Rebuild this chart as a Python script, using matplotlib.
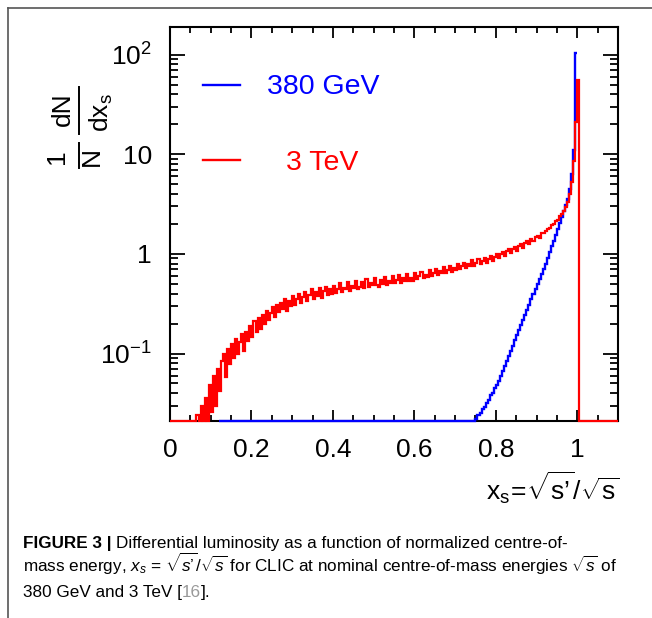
import matplotlib
matplotlib.use("Agg")
import numpy as np
import matplotlib.pyplot as plt
from matplotlib.lines import Line2D
from matplotlib.ticker import FixedLocator, FixedFormatter, MultipleLocator, LogLocator, NullFormatter

plt.rcParams['font.family'] = ['Liberation Sans', 'DejaVu Sans']
plt.rcParams['mathtext.fontset'] = 'custom'
plt.rcParams['mathtext.rm'] = 'Liberation Sans'
plt.rcParams['mathtext.it'] = 'Liberation Sans:italic'
plt.rcParams['mathtext.bf'] = 'Liberation Sans:bold'

# histogram bins (width 0.005 in x_s)
bin_width = 0.005

# 3 TeV spectrum, first bin starts at x_s = 0.065
red_start = 0.065
red_vals = [
    0.024, 0.010, 0.030, 0.012, 0.036, 0.020, 0.048, 0.026, 0.060, 0.030,
    0.070, 0.042, 0.085, 0.100, 0.058, 0.110, 0.078, 0.125, 0.090, 0.140,
    0.098, 0.130, 0.158, 0.105, 0.165, 0.135, 0.190, 0.145, 0.210, 0.165,
    0.225, 0.175, 0.245, 0.200, 0.270, 0.215, 0.255, 0.295, 0.230, 0.310,
    0.260, 0.325, 0.280, 0.355, 0.270, 0.340, 0.300, 0.375, 0.305, 0.350,
    0.395, 0.320, 0.370, 0.415, 0.335, 0.390, 0.440, 0.350, 0.410, 0.375,
    0.450, 0.365, 0.420, 0.470, 0.385, 0.440, 0.400, 0.480, 0.405, 0.445,
    0.505, 0.415, 0.460, 0.440, 0.525, 0.425, 0.480, 0.455, 0.540, 0.445,
    0.470, 0.520, 0.455, 0.560, 0.470, 0.505, 0.485, 0.575, 0.490, 0.465,
    0.545, 0.500, 0.590, 0.485, 0.540, 0.515, 0.600, 0.505, 0.545, 0.610,
    0.515, 0.570, 0.540, 0.625, 0.535, 0.575, 0.530, 0.640, 0.560, 0.600,
    0.665, 0.570, 0.620, 0.590, 0.690, 0.600, 0.640, 0.705, 0.615, 0.680,
    0.640, 0.735, 0.645, 0.690, 0.760, 0.660, 0.730, 0.690, 0.800, 0.700,
    0.760, 0.820, 0.715, 0.790, 0.750, 0.860, 0.760, 0.810, 0.890, 0.800,
    0.850, 0.920, 0.820, 0.890, 0.950, 0.850, 0.940, 0.990, 0.900, 0.990,
    1.050, 0.950, 1.060, 1.110, 1.010, 1.120, 1.180, 1.070, 1.190, 1.250,
    1.150, 1.290, 1.340, 1.250, 1.420, 1.340, 1.480, 1.530, 1.440, 1.610,
    1.640, 1.690, 1.790, 1.830, 1.960, 1.990, 2.150, 2.200, 2.380, 2.500,
    2.70, 2.95, 3.35, 4.00, 5.30, 8.50, 21.0, 56.0,
]

# 380 GeV spectrum, first bin starts at x_s = 0.750
blue_start = 0.750
blue_vals = [
    0.022, 0.024, 0.025, 0.028, 0.029, 0.032, 0.034, 0.038, 0.040, 0.045,
    0.048, 0.053, 0.059, 0.067, 0.0745, 0.085, 0.094, 0.107, 0.120, 0.136,
    0.152, 0.172, 0.192, 0.218, 0.244, 0.276, 0.309, 0.350, 0.392, 0.443,
    0.497, 0.56, 0.63, 0.71, 0.80, 0.90, 1.05, 1.20, 1.36, 1.55,
    1.78, 2.05, 2.35, 2.70, 3.10, 3.60, 4.50, 6.30, 11.0, 105.0,
]

x_ticks = [0, 0.2, 0.4, 0.6, 0.8, 1.0]
x_tick_labels = ['0', '0.2', '0.4', '0.6', '0.8', '1']
y_ticks = [0.1, 1, 10, 100]
y_tick_labels = [r'$\mathregular{10^{-1}}$', '1', '10', r'$\mathregular{10^{2}}$']
series_labels = ['380 GeV', '3 TeV']
series_colors = ['#0000ff', '#ff0000']

x_min, x_max = 0.0, 1.1
y_min, y_max = 0.021, 190.0
blue_range = (0.12, 1.0)

W, H = 652, 618
fig = plt.figure(figsize=(W / 100, H / 100), dpi=100)
ax = fig.add_axes([170 / W, 1 - 421 / H, 448 / W, 394 / H])
ax.set_yscale('log')
ax.set_xlim(x_min, x_max)
ax.set_ylim(y_min, y_max)

# full step histograms; empty bins sit on the bottom edge like ROOT draws them
n_red = int(round((x_max - x_min) / bin_width))
red_edges = x_min + bin_width * np.arange(n_red + 1)
red_full = np.zeros(n_red)
i0 = int(round((red_start - x_min) / bin_width))
red_full[i0:i0 + len(red_vals)] = red_vals

n_blue = int(round((blue_range[1] - blue_range[0]) / bin_width))
blue_edges = blue_range[0] + bin_width * np.arange(n_blue + 1)
blue_full = np.zeros(n_blue)
j0 = int(round((blue_start - blue_range[0]) / bin_width))
blue_full[j0:j0 + len(blue_vals)] = blue_vals

ax.stairs(np.maximum(blue_full, y_min), blue_edges, baseline=None,
          color=series_colors[0], lw=1.7, clip_on=False, zorder=3)
ax.stairs(np.maximum(red_full, y_min), red_edges, baseline=None,
          color=series_colors[1], lw=1.6, clip_on=False, zorder=4)

# ticks, ROOT style
ax.xaxis.set_major_locator(FixedLocator(x_ticks))
ax.xaxis.set_major_formatter(FixedFormatter(x_tick_labels))
ax.xaxis.set_minor_locator(MultipleLocator(0.05))
ax.yaxis.set_major_locator(FixedLocator(y_ticks))
ax.yaxis.set_major_formatter(FixedFormatter(y_tick_labels))
ax.yaxis.set_minor_locator(LogLocator(base=10, subs=np.arange(2, 10)))
ax.yaxis.set_minor_formatter(NullFormatter())
ax.tick_params(which='both', direction='in', top=True, right=True, width=1.3,
               labelsize=19, color='black')
ax.tick_params(axis='x', which='major', length=8, pad=12)
ax.tick_params(axis='x', which='minor', length=4.5)
ax.tick_params(axis='y', which='major', length=10.5, pad=13)
ax.tick_params(axis='y', which='minor', length=5.5)
for s in ax.spines.values():
    s.set_linewidth(1.5)

# legend drawn by hand
leg_y = [0.853, 0.662]
leg_tx = [0.217, 0.258]
for lab, col, yy, tx in zip(series_labels, series_colors, leg_y, leg_tx):
    ax.add_line(Line2D([0.073, 0.156], [yy, yy], transform=ax.transAxes,
                       color=col, lw=1.7))
    ax.text(tx, yy - 0.006, lab, transform=ax.transAxes, color=col,
            fontsize=20.5, ha='left', va='center')

# y title: 1/N dN/dx_s as two stacked fractions, rotated
lab_kw = dict(rotation=90, ha='center', va='center', fontsize=19)
fig.text(57 / W, 1 - 157 / H, '1', **lab_kw)
fig.text(92 / W, 1 - 156 / H, 'N', **lab_kw)
fig.text(63 / W, 1 - 109 / H, 'dN', **lab_kw)
fig.text(101 / W, 1 - 113 / H, r'$\mathregular{dx_s}$', **lab_kw)
fig.add_artist(Line2D([79 / W] * 2, [1 - 143 / H, 1 - 168 / H], color='k', lw=1.4))
fig.add_artist(Line2D([79 / W] * 2, [1 - 87 / H, 1 - 134 / H], color='k', lw=1.4))

# x title
fig.text(620 / W, 1 - 488 / H, "$\\mathregular{x_s\\!=\\!\\sqrt{s\u2019}/\\sqrt{s}}$",
         ha='right', va='center', fontsize=19)

# page frame lines
fig.add_artist(Line2D([8 / W, 1], [1 - 8 / H, 1 - 8 / H], color='#555555', lw=1.2))
fig.add_artist(Line2D([8 / W, 8 / W], [0, 1 - 8 / H], color='#555555', lw=1.2))

# caption
cap_size = 12.3
fig.canvas.draw()
r = fig.canvas.get_renderer()


def put(x_px, base_px, s, **kw):
    t = fig.text(x_px / W, 1 - base_px / H, s, fontsize=cap_size,
                 va='baseline', ha='left', **kw)
    bb = t.get_window_extent(r)
    return bb.x1


x = put(23, 548, 'FIGURE 3 |', weight='bold')
put(x + 5, 548, 'Differential luminosity as a function of normalized centre-of-')
put(23, 572, "mass energy, $x_s$ = $\\sqrt{s\u2019}/\\sqrt{s}$ for CLIC at nominal "
             "centre-of-mass energies $\\sqrt{s}$ of")
x = put(23, 597, '380 GeV and 3 TeV [')
x = put(x, 597, '16', color='#999999')
put(x, 597, '].')

fig.savefig('out.png', dpi=100)
